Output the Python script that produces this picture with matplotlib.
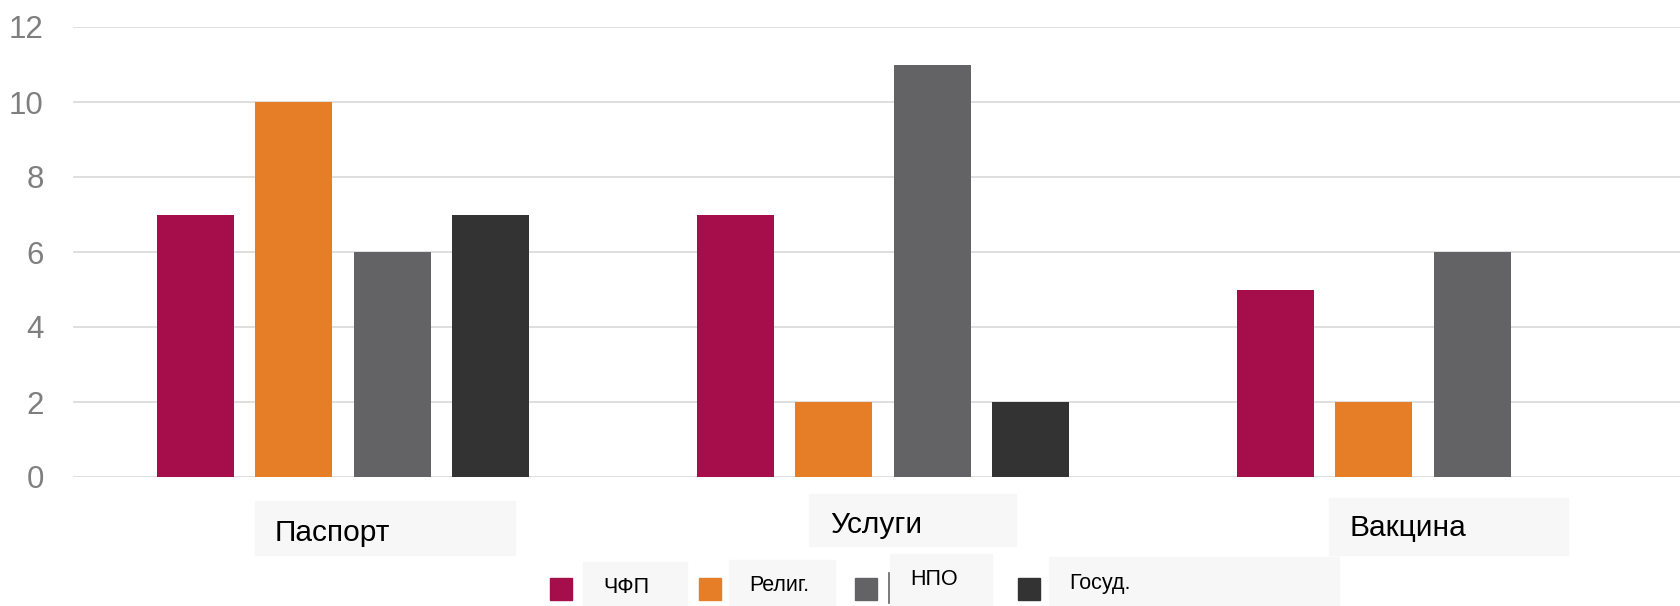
import numpy as np
import matplotlib
matplotlib.use("Agg")
import matplotlib.pyplot as plt
from matplotlib.patches import Rectangle
from matplotlib.lines import Line2D

plt.rcParams['font.family'] = ['Liberation Sans', 'DejaVu Sans']

# data
categories = ['Паспорт', 'Услуги', 'Вакцина']
series_names = ['ЧФП', 'Религ.', 'НПО', 'Госуд.']
chfp = [7, 7, 5]
relig = [10, 2, 2]
npo = [6, 11, 6]
gosud = [7, 2, 0]
colors = ['#A50D4B', '#E57E26', '#636365', '#333333']

W, H = 1680, 606
fig = plt.figure(figsize=(W / 100, H / 100), dpi=100)


def fx(x):
    return x / W


def fy(y):
    return 1 - y / H


# axes: y=0 at 477px, y=12 at 27px, left edge at 73px, 540px per category
ax = fig.add_axes([fx(73), fy(477), 1 - fx(73), 450 / H])
ax.set_xlim(0, (W - 73) / 540)
ax.set_ylim(0, 12)

x = np.arange(len(categories)) + 0.5
step, width = 0.1815, 0.1426
for i, vals in enumerate([chfp, relig, npo, gosud]):
    ax.bar(x + (i - 1.5) * step, vals, width, color=colors[i], zorder=3)

ax.set_yticks(range(0, 13, 2))
ax.yaxis.grid(True, color='#d9d9d9', lw=1.2, zorder=0)
ax.tick_params(axis='y', length=0, pad=21, labelsize=22.5, labelcolor='#7f7f7f')
ax.set_xticks([])
for s in ax.spines.values():
    s.set_visible(False)


def box(x0, y0, x1, y1):
    fig.add_artist(Rectangle((fx(x0), fy(y1)), fx(x1 - x0), (y1 - y0) / H,
                             transform=fig.transFigure, color='#f7f7f7', zorder=1))


# category labels in grey boxes
cat_boxes = [(255, 501, 515, 555, 275, 541), (809, 494, 1016, 546, 830, 533),
             (1329, 498, 1568, 555, 1349, 536)]
for name, (x0, y0, x1, y1, tx, ty) in zip(categories, cat_boxes):
    box(x0, y0, x1, y1)
    fig.text(fx(tx), fy(ty), name, fontsize=21.5, color='black', va='baseline', zorder=2)

# legend, drawn by hand
leg_boxes = [(583, 562, 687, 606, 603, 593), (729, 560, 835, 606, 749, 591),
             (890, 554, 992, 606, 910, 585), (1049, 557, 1339, 606, 1069, 589)]
marker_x = [550, 699, 855, 1018]
for i, name in enumerate(series_names):
    x0, y0, x1, y1, tx, ty = leg_boxes[i]
    box(x0, y0, x1, y1)
    fig.add_artist(Rectangle((fx(marker_x[i]), fy(600)), fx(22), 22 / H,
                             transform=fig.transFigure, color=colors[i], zorder=2))
    fig.text(fx(tx), fy(ty), name, fontsize=15.5, color='black', va='baseline', zorder=2)
fig.add_artist(Line2D([fx(889), fx(889)], [fy(603), fy(573)], transform=fig.transFigure,
                      color='#636365', lw=1.2, zorder=2))

fig.savefig('out.png', dpi=100)
